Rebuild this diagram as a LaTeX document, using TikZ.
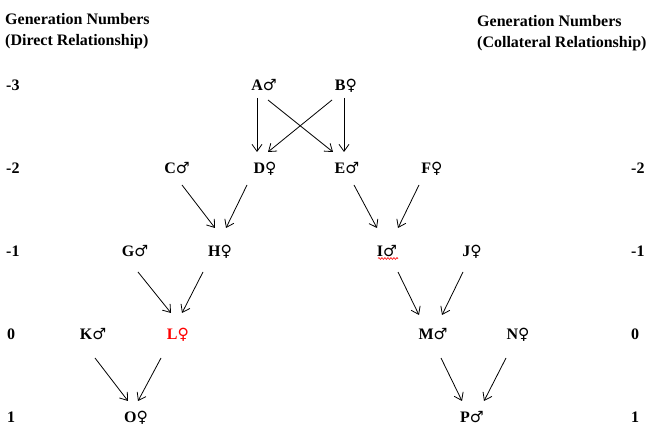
\documentclass[tikz,border=0pt]{standalone}
\usepackage{fontspec}
\setmainfont{Liberation Serif}
\newfontfamily\symfont{DejaVu Sans}
\usetikzlibrary{arrows.meta,decorations.pathmorphing}
\newcommand{\male}{{\symfont\fontsize{15.5}{17}\selectfont ♂}}
\newcommand{\female}{{\symfont\fontsize{15.5}{17}\selectfont ♀}}
\tikzset{
  lbl/.style={font=\fontsize{16}{19}\selectfont\bfseries, inner sep=0pt, anchor=base west},
  person/.style={font=\fontsize{16}{19}\selectfont\bfseries, inner sep=0pt, anchor=base},
  link/.style={line width=0.8pt, -{Straight Barb[length=7pt,width=10pt,line width=0.8pt]}},
  squiggle/.style={red, line width=0.6pt, decorate, decoration={snake, amplitude=0.9pt, segment length=3pt}}
}
\begin{document}
\begin{tikzpicture}[x=1pt,y=-1pt]
\useasboundingbox[fill=white] (0,0) rectangle (656,435);
% headers
\node[lbl] (hl1) at (5,25) {Generation Numbers};
\node[lbl] (hl2) at (5,46) {(Direct Relationship)};
\node[lbl] (hr1) at (477,27) {Generation Numbers};
\node[lbl] (hr2) at (477,48) {(Collateral Relationship)};
% generation numbers
\node[lbl] (nl3) at (6,91) {-3};
\node[lbl] (nl2) at (6,174) {-2};
\node[lbl] (nl1) at (6,257) {-1};
\node[lbl] (nl0) at (7,340) {0};
\node[lbl] (nlp) at (7,423) {1};
\node[lbl] (nr2) at (631,174) {-2};
\node[lbl] (nr1) at (631,257) {-1};
\node[lbl] (nr0) at (631,340) {0};
\node[lbl] (nrp) at (631,423) {1};
% persons
\node[person] (A) at (264,91) {A\male};
\node[person] (B) at (346,91) {B\female};
\node[person] (C) at (177,174) {C\male};
\node[person] (D) at (265,174) {D\female};
\node[person] (E) at (347,174) {E\male};
\node[person] (F) at (432,174) {F\female};
\node[person] (G) at (135,257) {G\male};
\node[person] (H) at (220,257) {H\female};
\node[person] (I) at (387,257) {I\male};
\node[person] (J) at (472,257) {J\female};
\node[person] (K) at (93,340) {K\male};
\node[person,red] (L) at (178,340) {L\female};
\node[person] (M) at (433,340) {M\male};
\node[person] (N) at (518,340) {N\female};
\node[person] (O) at (136,423) {O\female};
\node[person] (P) at (472,423) {P\male};
% underline under I
\draw[squiggle] ([shift={(-9,1.5)}]I.base) -- ([shift={(11,1.5)}]I.base);
% connectors
\draw[link] ([shift={(-7,7)}]A.base) -- ([shift={(-8,-22)}]D.base);
\draw[link] ([shift={(4,9)}]A.base) -- ([shift={(-14,-22)}]E.base);
\draw[link] ([shift={(-14,9)}]B.base) -- ([shift={(3,-22)}]D.base);
\draw[link] ([shift={(-2,7)}]B.base) -- ([shift={(-3,-22)}]E.base);
\draw[link] ([shift={(5,11)}]C.base) -- ([shift={(-5,-29)}]H.base);
\draw[link] ([shift={(-18,11)}]D.base) -- ([shift={(6,-29)}]H.base);
\draw[link] ([shift={(7,11)}]E.base) -- ([shift={(-10,-29)}]I.base);
\draw[link] ([shift={(-13,11)}]F.base) -- ([shift={(11,-29)}]I.base);
\draw[link] ([shift={(3,15)}]G.base) -- ([shift={(-7,-27)}]L.base);
\draw[link] ([shift={(-17,15)}]H.base) -- ([shift={(4,-27)}]L.base);
\draw[link] ([shift={(11,15)}]I.base) -- ([shift={(-14,-25)}]M.base);
\draw[link] ([shift={(-9,15)}]J.base) -- ([shift={(9,-25)}]M.base);
\draw[link] ([shift={(2,18)}]K.base) -- ([shift={(-8,-22)}]O.base);
\draw[link] ([shift={(-17,18)}]L.base) -- ([shift={(2,-22)}]O.base);
\draw[link] ([shift={(8,18)}]M.base) -- ([shift={(-10,-22)}]P.base);
\draw[link] ([shift={(-12,18)}]N.base) -- ([shift={(12,-22)}]P.base);
\end{tikzpicture}
\end{document}
